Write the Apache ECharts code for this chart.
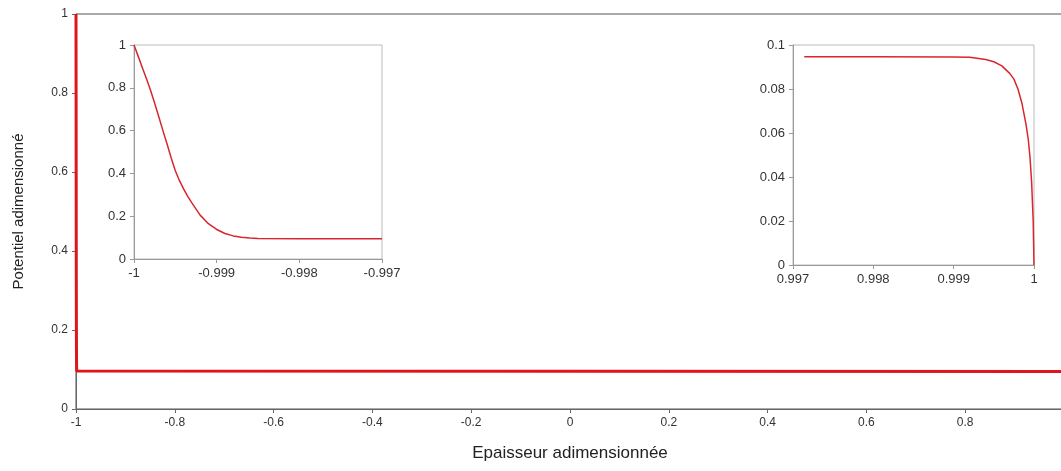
<!DOCTYPE html>
<html><head><meta charset="utf-8">
<script src="https://cdn.jsdelivr.net/npm/echarts@6/dist/echarts.min.js"></script>
<style>html,body{margin:0;padding:0;background:#fff}#c{width:1061px;height:471px}</style>
</head><body><div id="c"></div>
<script>
// Left boundary layer (inset 1)
const leftX = [-1, -0.99995, -0.9999, -0.99985, -0.9998, -0.99975, -0.9997, -0.99965, -0.9996, -0.99955, -0.9995, -0.99945, -0.9994, -0.99935, -0.9993, -0.9992, -0.9991, -0.999, -0.9989, -0.9988, -0.9987, -0.9986, -0.9985, -0.998, -0.997];
const leftY = [1, 0.948, 0.895, 0.843, 0.789, 0.728, 0.665, 0.600, 0.537, 0.472, 0.412, 0.366, 0.328, 0.293, 0.262, 0.205, 0.165, 0.138, 0.119, 0.108, 0.102, 0.098, 0.096, 0.0946, 0.0946];
// Right boundary layer (inset 2)
const rightX = [0.99714, 0.998, 0.999, 0.9992, 0.9994, 0.9995, 0.9996, 0.9997, 0.99975, 0.9998, 0.99985, 0.9999, 0.99993, 0.99995, 0.99997, 0.99999, 1];
const rightY = [0.0947, 0.0947, 0.0946, 0.0944, 0.0934, 0.0924, 0.0905, 0.087, 0.0845, 0.080, 0.0735, 0.064, 0.0567, 0.049, 0.038, 0.02, 0];

const mainXTicks = {min: -1, max: 1, interval: 0.2};
const mainYTicks = {min: 0, max: 1, interval: 0.2};
const in1XTicks = {min: -1, max: -0.997, interval: 0.001};
const in1YTicks = {min: 0, max: 1, interval: 0.2};
const in2XTicks = {min: 0.997, max: 1, interval: 0.001};
const in2YTicks = {min: 0, max: 0.1, interval: 0.02};

const xAxisName = 'Epaisseur adimensionnée';
const yAxisName = 'Potentiel adimensionné';

const pairs = (xs, ys) => xs.map((x, i) => [x, ys[i]]);
const mainData = pairs(leftX, leftY).concat(pairs(rightX, rightY));

const FONT = 'Liberation Sans, Arial, sans-serif';
const fmt = d => v => String(+(+v).toFixed(d));

function axisCommon(lineColor, decimals, fs) {
  return {
    type: 'value',
    axisLine: {show: true, onZero: false, lineStyle: {color: lineColor, width: 1}},
    axisTick: {show: true, inside: false, length: 4, lineStyle: {color: lineColor}},
    splitLine: {show: false},
    axisLabel: {color: '#333', fontFamily: FONT, fontSize: fs, margin: 8, formatter: fmt(decimals), showMinLabel: true, showMaxLabel: true}
  };
}

const chart = echarts.init(document.getElementById('c'), null, {renderer: 'canvas'});
chart.setOption({
  animation: false,
  backgroundColor: '#fff',
  grid: [
    {left: 76, right: -3, top: 14, bottom: 62, show: true, borderColor: '#555', borderWidth: 1, backgroundColor: '#fff', outerBoundsMode: 'none', containLabel: false},
    {left: 134, right: 679, top: 45, bottom: 212, show: true, borderColor: '#bbb', borderWidth: 1, backgroundColor: '#fff', z: 5, outerBoundsMode: 'none', containLabel: false},
    {left: 793, right: 27, top: 45, bottom: 206, show: true, borderColor: '#bbb', borderWidth: 1, backgroundColor: '#fff', z: 5, outerBoundsMode: 'none', containLabel: false}
  ],
  xAxis: [
    Object.assign(axisCommon('#666', 1, 12), mainXTicks, {gridIndex: 0, name: xAxisName, nameLocation: 'middle', nameGap: 36,
      nameTextStyle: {color: '#222', fontFamily: FONT, fontSize: 17}}),
    Object.assign(axisCommon('#999', 3, 13), in1XTicks, {gridIndex: 1, z: 6}),
    Object.assign(axisCommon('#999', 3, 13), in2XTicks, {gridIndex: 2, z: 6})
  ],
  yAxis: [
    Object.assign(axisCommon('#666', 1, 12), mainYTicks, {gridIndex: 0, name: yAxisName, nameLocation: 'middle', nameGap: 50,
      nameTextStyle: {color: '#222', fontFamily: FONT, fontSize: 15}}),
    Object.assign(axisCommon('#999', 1, 13), in1YTicks, {gridIndex: 1, z: 6}),
    Object.assign(axisCommon('#999', 2, 13), in2YTicks, {gridIndex: 2, z: 6})
  ],
  series: [
    {type: 'line', xAxisIndex: 0, yAxisIndex: 0, data: mainData, showSymbol: false, symbol: 'none', clip: false,
      lineStyle: {color: '#e0141b', width: 3}, z: 2},
    {type: 'line', xAxisIndex: 1, yAxisIndex: 1, data: pairs(leftX, leftY), showSymbol: false, symbol: 'none', smooth: false,
      lineStyle: {color: '#d9262e', width: 1.5, join: 'round'}, z: 10},
    {type: 'line', xAxisIndex: 2, yAxisIndex: 2, data: pairs(rightX, rightY), showSymbol: false, symbol: 'none', smooth: false,
      lineStyle: {color: '#d9262e', width: 1.5, join: 'round'}, z: 10}
  ]
});
</script></body></html>
